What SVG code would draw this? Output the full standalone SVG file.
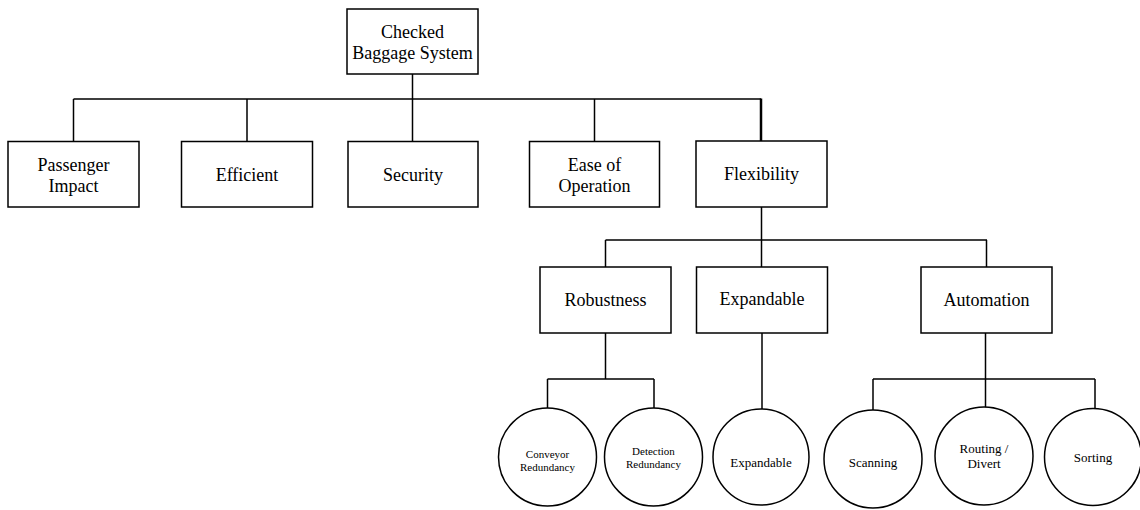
<svg xmlns="http://www.w3.org/2000/svg" width="1140" height="510" viewBox="0 0 1140 510">
<style>
.box{fill:#fff;stroke:#000;stroke-width:1.5}
.circ{fill:#fff;stroke:#000;stroke-width:1.5}
.ln{fill:none;stroke:#000;stroke-width:1.5}
text{fill:#000;text-anchor:middle}
.t{font-size:18px}
.s{font-size:11px}
.m{font-size:13px}
</style>
<rect width="1140" height="510" fill="#fff"/>
<g id="connectors">
<path class="ln" d="M412.5 74V99M73.5 99H761M73.5 99V141M247 99V141M412.5 99V141M594.5 99V141"/>
<path class="ln" style="stroke-width:2.5" d="M761 98.5V141"/>
<path class="ln" d="M761.5 207V267M605.5 240H987M605.5 240V267M986.5 240V267"/>
<path class="ln" d="M605.5 333V379M547.5 379H654M547.5 379V408M654 379V408"/>
<path class="ln" d="M762 333V409"/>
<path class="ln" d="M985.5 333V408M873 379H1095M873 379V410M1095 379V408"/>
</g>
<g font-family="Liberation Serif, Tinos, DejaVu Serif, serif">
<g id="root"><rect class="box" x="347" y="9" width="131" height="65"/><text class="t" x="412.5" y="37.5">Checked</text><text class="t" x="412.5" y="58.5">Baggage System</text></g>
<g id="passenger"><rect class="box" x="8" y="141.5" width="131" height="65.5"/><text class="t" x="73.5" y="171">Passenger</text><text class="t" x="73.5" y="192">Impact</text></g>
<g id="efficient"><rect class="box" x="181.5" y="141.5" width="131" height="65.5"/><text class="t" x="247" y="181">Efficient</text></g>
<g id="security"><rect class="box" x="348" y="141.5" width="130" height="65.5"/><text class="t" x="413" y="181">Security</text></g>
<g id="ease"><rect class="box" x="529.5" y="141.5" width="130" height="65.5"/><text class="t" x="594.5" y="171">Ease of</text><text class="t" x="594.5" y="192">Operation</text></g>
<g id="flexibility"><rect class="box" x="696" y="141" width="131" height="66"/><text class="t" x="761.5" y="180">Flexibility</text></g>
<g id="robustness"><rect class="box" x="540" y="267" width="131" height="66"/><text class="t" x="605.5" y="306">Robustness</text></g>
<g id="expandable"><rect class="box" x="696.5" y="267" width="131" height="66"/><text class="t" x="762" y="305">Expandable</text></g>
<g id="automation"><rect class="box" x="921" y="267" width="131" height="66"/><text class="t" x="986.5" y="306">Automation</text></g>
<g id="conveyor"><circle class="circ" cx="547.5" cy="457" r="49"/><text class="s" x="547.5" y="458">Conveyor</text><text class="s" x="547.5" y="471">Redundancy</text></g>
<g id="detection"><circle class="circ" cx="653.5" cy="457" r="49"/><text class="s" x="653.5" y="455">Detection</text><text class="s" x="653.5" y="468">Redundancy</text></g>
<g id="expandable2"><circle class="circ" cx="761" cy="457" r="48"/><text class="m" x="761" y="467">Expandable</text></g>
<g id="scanning"><circle class="circ" cx="873" cy="459" r="49"/><text class="m" x="873" y="467">Scanning</text></g>
<g id="routing"><circle class="circ" cx="984" cy="456" r="49"/><text class="m" font-size="14" x="984" y="453">Routing /</text><text class="m" font-size="14" x="984" y="468">Divert</text></g>
<g id="sorting"><circle class="circ" cx="1093" cy="457" r="48.5"/><text class="m" x="1093" y="462">Sorting</text></g>
</g>
</svg>
